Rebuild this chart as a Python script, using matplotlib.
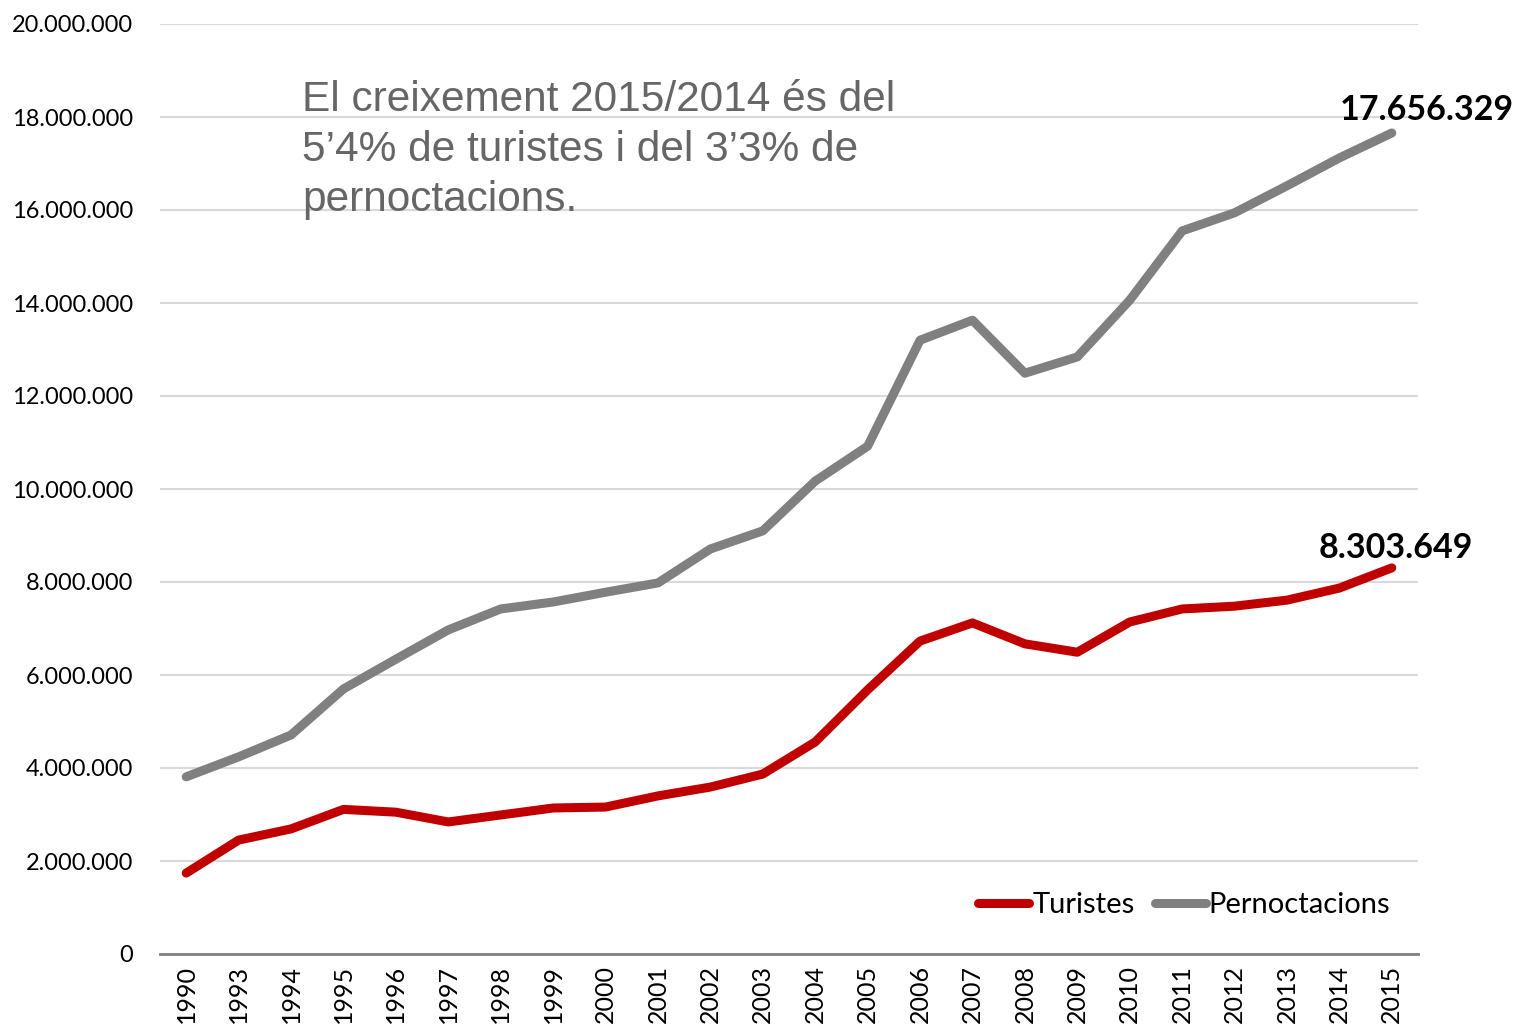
import matplotlib.pyplot as plt

# data
years = ['1990', '1993', '1994', '1995', '1996', '1997', '1998', '1999', '2000',
         '2001', '2002', '2003', '2004', '2005', '2006', '2007', '2008', '2009',
         '2010', '2011', '2012', '2013', '2014', '2015']
turistes = [1740000, 2450000, 2690000, 3110000, 3050000, 2840000, 2990000, 3140000,
            3160000, 3400000, 3590000, 3870000, 4560000, 5680000, 6730000, 7120000,
            6670000, 6490000, 7140000, 7420000, 7480000, 7610000, 7870000, 8303649]
pernoctacions = [3810000, 4240000, 4710000, 5700000, 6340000, 6970000, 7420000, 7570000,
                 7780000, 7980000, 8710000, 9100000, 10170000, 10920000, 13200000, 13630000,
                 12490000, 12840000, 14060000, 15550000, 15940000, 16520000, 17120000, 17656329]
yticks = list(range(0, 20000001, 2000000))

plt.rcParams['font.family'] = ['Lato', 'DejaVu Sans']

fig = plt.figure(figsize=(15.17, 10.26), dpi=100)
ax = fig.add_axes([160 / 1517, 1 - 954 / 1026, (1418 - 160) / 1517, (954 - 24) / 1026])

x = list(range(len(years)))
ax.plot(x, turistes, color='#c00000', lw=6.5, solid_capstyle='round', label='Turistes')
ax.plot(x, pernoctacions, color='#808080', lw=6.5, solid_capstyle='round', label='Pernoctacions')

ax.set_xlim(-0.5, len(years) - 0.5)
ax.set_ylim(0, 20000000)
ax.set_xticks(x)
ax.set_xticklabels(years, rotation=90, fontsize=18)
ax.set_yticks(yticks)
ax.set_yticklabels([f'{v:,}'.replace(',', '.') for v in yticks], fontsize=17)
ax.tick_params(length=0, pad=8)
ax.tick_params(axis='y', pad=19.5)

ax.grid(axis='y', color='#d9d9d9', lw=1.5)
ax.set_axisbelow(True)
for s in ['top', 'right', 'left']:
    ax.spines[s].set_visible(False)
ax.spines['bottom'].set_color('#808080')
ax.spines['bottom'].set_linewidth(2)

# last-value labels
ax.annotate(f'{turistes[-1]:,}'.replace(',', '.'), (x[-1], turistes[-1]),
            xytext=(3, 3), textcoords='offset points', ha='center', va='bottom',
            fontsize=24.5, fontweight='bold')
ax.annotate(f'{pernoctacions[-1]:,}'.replace(',', '.'), (x[-1], pernoctacions[-1]),
            xytext=(25, 5), textcoords='offset points', ha='center', va='bottom',
            fontsize=24.5, fontweight='bold')

ax.text(0.113, 0.94, 'El creixement 2015/2014 és del\n5’4% de turistes i del 3’3% de\npernoctacions.',
        transform=ax.transAxes, ha='left', va='top', fontsize=30.5, color='#666666',
        family='Liberation Sans', linespacing=1.32)

ax.legend(loc='lower right', bbox_to_anchor=(0.999, 0.01), frameon=False, fontsize=21,
          handlelength=1.75, handletextpad=0.1, columnspacing=0.7, ncol=2)

fig.savefig('out.png', dpi=100)
